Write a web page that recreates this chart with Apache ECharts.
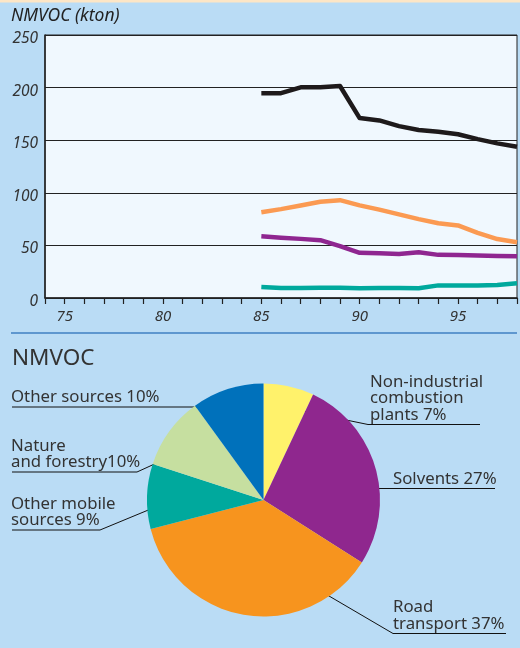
<!DOCTYPE html>
<html>
<head>
<meta charset="utf-8">
<script src="https://cdn.jsdelivr.net/npm/echarts@6/dist/echarts.min.js"></script>
<style>
html,body{margin:0;padding:0;background:#badcf5;}
#c{width:520px;height:648px;}
</style>
</head>
<body>
<div id="c"></div>
<script>
// ---- data ----
var years = [85, 86, 87, 88, 89, 90, 91, 92, 93, 94, 95, 96, 97, 98];
var seriesBlack  = [194.7, 194.7, 200.3, 200.3, 201.5, 171, 168.8, 163.4, 159.7, 158, 155.6, 151, 147, 143.7];
var seriesOrange = [81.5, 84.5, 88, 91.5, 93, 88, 84, 79.5, 75, 71, 69, 62, 56, 53];
var seriesPurple = [58.6, 57.3, 56.2, 55, 49.4, 43, 42.5, 41.8, 43.4, 41, 40.8, 40.4, 40, 39.6];
var seriesTeal   = [10.5, 9.5, 9.5, 9.8, 9.8, 9.2, 9.5, 9.5, 9.2, 12, 12, 12, 12.3, 14];
var yTicks = [0, 50, 100, 150, 200, 250];
var xTickLabels = [75, 80, 85, 90, 95];

var pieNames  = ['Non-industrial combustion plants', 'Solvents', 'Road transport', 'Other mobile sources', 'Nature and forestry', 'Other sources'];
var pieValues = [7, 27, 37, 9, 10, 10];
var pieLabels = ['Non-industrial\ncombustion\nplants 7%', 'Solvents 27%', 'Road\ntransport 37%', 'Other mobile\nsources 9%', 'Nature\nand forestry10%', 'Other sources 10%'];

// ---- styles / layout ----
var pieColors = ['#fff26b', '#8f278e', '#f7941e', '#00a99d', '#c6dfa0', '#0071bb'];
var labelPlaces = [
  {x: 370, ul: 424.5, pts: [[283, 407], [368, 424.5], [480, 424.5]]},
  {x: 393, ul: 488.5, pts: [[367, 488.5], [430, 488.5], [495, 488.5]]},
  {x: 393, ul: 633.5, pts: [[320.5, 591], [393, 633.5], [506, 633.5]]},
  {x: 11,  ul: 530,   pts: [[158, 506], [100, 530], [12, 530]]},
  {x: 11,  ul: 472,   pts: [[171, 456.5], [137, 472], [12, 472]]},
  {x: 11,  ul: 407,   pts: [[216, 407], [120, 407], [12, 407]]}
];

function pairs(vals){ return years.map(function(y, i){ return [y, vals[i]]; }); }
function lineSeries(vals, color){
  return {
    type: 'line', data: pairs(vals), symbol: 'none', silent: true,
    lineStyle: {color: color, width: 4.5, cap: 'butt', join: 'round'},
    xAxisIndex: 0, yAxisIndex: 0, animation: false
  };
}

var chart = echarts.init(document.getElementById('c'), null, {renderer: 'canvas'});
var FONT = 'Noto Sans';
chart.setOption({
  backgroundColor: '#badcf5',
  animation: false,
  title: [
    {text: 'NMVOC (kton)', left: 6, top: 2,
     textStyle: {fontFamily: FONT, fontStyle: 'italic', fontWeight: 'normal', fontSize: 17.5, color: '#222'}},
    {text: 'NMVOC', left: 7, top: 342,
     textStyle: {fontFamily: FONT, fontWeight: 'normal', fontSize: 22.5, color: '#333'}}
  ],
  graphic: [
    {type: 'rect', shape: {x: 0, y: 0, width: 520, height: 2.5}, style: {fill: '#fde6c6'}, silent: true},
    {type: 'line', shape: {x1: 11, y1: 333, x2: 517, y2: 333}, style: {stroke: '#3f80c2', lineWidth: 1.5}, silent: true}
  ],
  grid: {left: 45, right: 2, top: 35, bottom: 350, show: true, backgroundColor: '#f0f8fe', borderColor: '#222', borderWidth: 1},
  xAxis: {
    type: 'value', min: 74, max: 98, interval: 1,
    axisLine: {show: true, lineStyle: {color: '#222', width: 1.5}},
    axisTick: {show: true, inside: false, length: 6, lineStyle: {color: '#222', width: 1.2}},
    splitLine: {show: false},
    axisLabel: {
      margin: 11, fontFamily: FONT, fontStyle: 'italic', fontSize: 15, color: '#333',
      formatter: function(v){ return xTickLabels.indexOf(v) >= 0 ? String(v) : ''; }
    }
  },
  yAxis: {
    type: 'value', min: yTicks[0], max: yTicks[yTicks.length - 1], interval: 50,
    axisLine: {show: true, lineStyle: {color: '#222', width: 1.5}},
    axisTick: {show: false},
    splitLine: {show: true, lineStyle: {color: '#222', width: 1.2}},
    axisLabel: {margin: 7, fontFamily: FONT, fontStyle: 'italic', fontSize: 15.5, color: '#333',
      verticalAlign: 'top', lineHeight: 7}
  },
  series: [
    lineSeries(seriesBlack, '#1e1a1b'),
    lineSeries(seriesOrange, '#fb9a52'),
    lineSeries(seriesPurple, '#8f2690'),
    lineSeries(seriesTeal, '#00a99d'),
    {
      type: 'pie', center: [263.5, 500], radius: 116.5, startAngle: 90, clockwise: true,
      avoidLabelOverlap: false, silent: true, animation: false,
      emphasis: {disabled: true},
      data: pieNames.map(function(n, i){
        return {name: n, value: pieValues[i], itemStyle: {color: pieColors[i]}};
      }),
      itemStyle: {borderWidth: 0},
      label: {
        show: true, position: 'outside',
        formatter: function(p){ return pieLabels[p.dataIndex]; },
        fontFamily: FONT, fontSize: 16.8, lineHeight: 16.5, color: '#333', align: 'left'
      },
      labelLine: {show: true, length: 10, length2: 10, minTurnAngle: 0, lineStyle: {color: '#111', width: 1}},
      labelLayout: function(params){
        var lp = labelPlaces[params.dataIndex];
        return {x: lp.x, y: lp.ul - 1.5, align: 'left', verticalAlign: 'bottom', labelLinePoints: lp.pts};
      }
    }
  ]
});
</script>
</body>
</html>
